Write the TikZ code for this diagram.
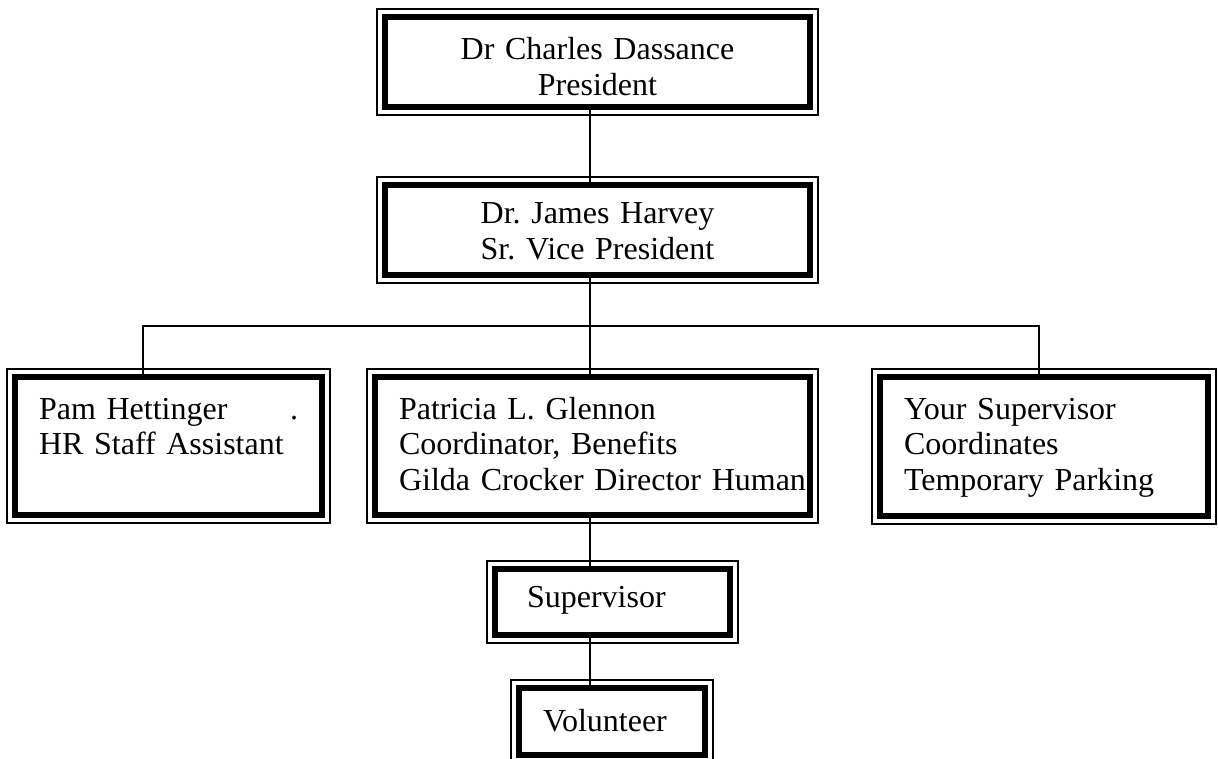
\documentclass[tikz,border=0pt]{standalone}
\usepackage{fontspec}
\setmainfont{Liberation Serif}
\frenchspacing

\begin{document}
\begin{tikzpicture}[
  x=1pt,y=-1pt,
  orgbox/.style={draw,line width=6pt,outer sep=0pt,inner xsep=24pt,inner ysep=0pt,
    text height=0pt,font=\fontsize{32}{35.5}\selectfont},
  frame/.style={line width=1.3pt},
  link/.style={line width=1.2pt}
]
\useasboundingbox (0,0) rectangle (1218,759);

\node[orgbox, align=center, text width=377pt, minimum height=90pt, text depth=4pt] (pres) at (597.5,62) {Dr Charles Dassance\\President};
\node[orgbox, align=center, text width=377pt, minimum height=90pt, text depth=12pt] (svp) at (597.5,230) {Dr. James Harvey\\Sr. Vice President};

\node[orgbox, align=left, text width=259pt, minimum height=138pt, text depth=54pt] (pam) at (168.5,446) {Pam Hettinger\hfill.\hspace*{9pt}\\HR Staff Assistant};
\node[orgbox, align=left, text width=387pt, minimum height=138pt, text depth=54pt] (pat) at (592.5,446) {Patricia L. Glennon\\Coordinator, Benefits\\\mbox{Gilda Crocker Director Human}};
\node[orgbox, align=left, text width=280pt, minimum height=139pt, text depth=55pt] (yours) at (1044,446.5) {Your Supervisor\\Coordinates\\Temporary Parking};

\node[orgbox, align=left, inner xsep=32pt, text width=171pt, minimum height=66pt, text height=18pt] (sup) at (612.5,602) {Supervisor};
\node[orgbox, align=left, text width=138pt, minimum height=67pt, text height=21pt] (vol) at (612,721.5) {Volunteer};

% thin outer line of each border
\foreach \n in {pres,svp,pam,pat,yours,sup,vol}
  \draw[frame] ([shift={(-8,-8)}]\n.north west) rectangle ([shift={(8,8)}]\n.south east);

\coordinate (bus) at (590,326);
\coordinate (busL) at (143,326);
\coordinate (busR) at (1039,326);

\draw[link] (pres.south -| bus) -- (svp.north -| bus);
\draw[link] (svp.south -| bus) -- (pat.north -| bus);
\draw[link] (pam.north -| busL) -- (busL) -- (busR) -- (yours.north -| busR);
\draw[link] (pat.south -| bus) -- (sup.north -| bus);
\draw[link] (sup.south -| bus) -- (vol.north -| bus);
\end{tikzpicture}
\end{document}
